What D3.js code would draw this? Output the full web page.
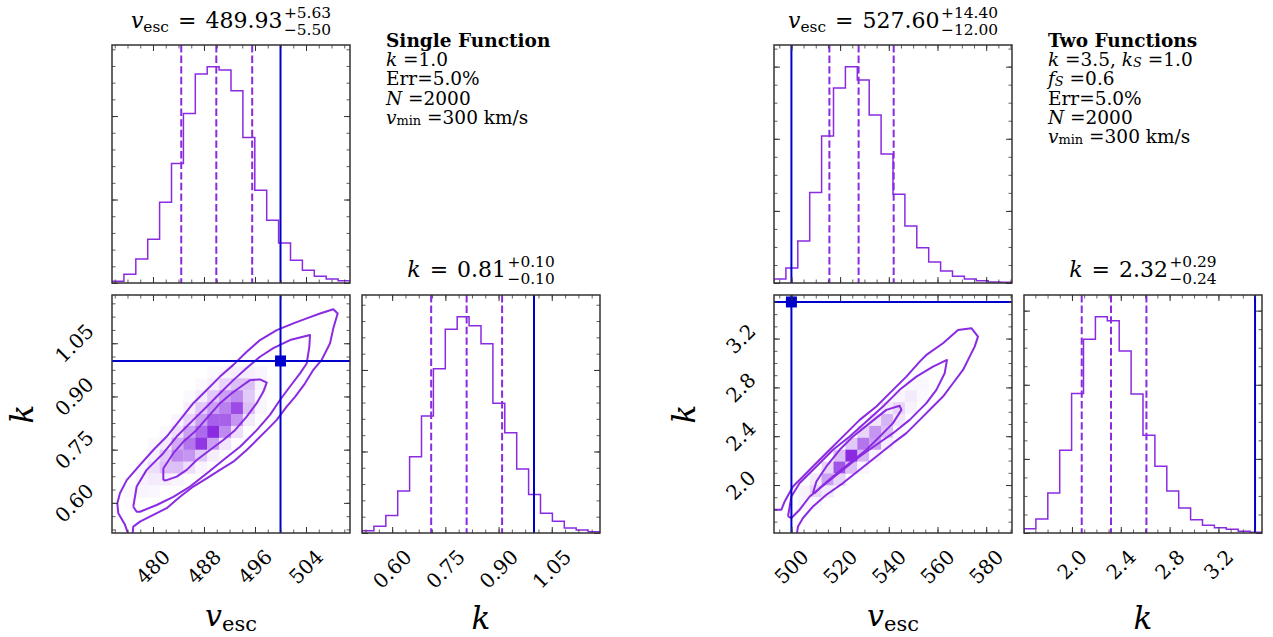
<!DOCTYPE html>
<html><head><meta charset="utf-8">
<script src="https://d3js.org/d3.v7.min.js"></script>
<style>html,body{margin:0;padding:0;background:#fff} text{white-space:pre}</style>
</head><body>
<svg id="chart" width="1273" height="637" xmlns="http://www.w3.org/2000/svg"></svg>
<script>
// ================= DATA =================
const nBins = 20;

// ---- Left: Single Function ----
const leftVescExtent = [473.57, 510.9];
const leftKExtent = [0.515, 1.186];
const leftVescHist = [2, 10.4, 28.8, 52.4, 96.8, 143.2, 203.2, 250.4, 259.2, 255.2, 230.4, 174.4, 111.2, 75.2, 48, 27.2, 15.2, 8, 4.8, 2.8];
const leftKHist = [2.9, 8.2, 21.4, 51.4, 93.4, 143.6, 201.6, 249.8, 265.4, 254.3, 232.1, 159.3, 123.0, 78.6, 47.3, 24.3, 14.4, 6.2, 3.7, 1.6];
const leftVescQuantiles = [484.43, 489.93, 495.56];
const leftKQuantiles = [0.71, 0.81, 0.91];
const leftTruth = [500, 1.0];
const leftVescTicks = [480, 488, 496, 504];
const leftVescTickLabels = ["480", "488", "496", "504"];
const leftKTicks = [0.60, 0.75, 0.90, 1.05];
const leftKTickLabels = ["0.60", "0.75", "0.90", "1.05"];
const leftVescMinorStep = 2, leftKMinorStep = 0.0375;
const leftHistTickSteps = [100, 20];
// [vBin, kBin, relative density]
const leftCells = [
  [8,13,.03],[9,13,.05],[10,13,.08],[11,13,.08],[12,13,.05],
  [7,12,.03],[8,12,.08],[9,12,.2],[10,12,.3],[11,12,.3],[12,12,.06],
  [6,11,.03],[7,11,.1],[8,11,.25],[9,11,.45],[10,11,.55],[11,11,.25],[12,11,.04],
  [6,10,.08],[7,10,.25],[8,10,.45],[9,10,.6],[10,10,.85],[11,10,.3],[12,10,.05],
  [5,9,.05],[6,9,.2],[7,9,.45],[8,9,.75],[9,9,.75],[10,9,.5],[11,9,.1],
  [4,8,.04],[5,8,.15],[6,8,.45],[7,8,.7],[8,8,1],[9,8,.55],[10,8,.15],
  [3,7,.03],[4,7,.1],[5,7,.4],[6,7,.65],[7,7,.95],[8,7,.45],[9,7,.12],
  [3,6,.06],[4,6,.25],[5,6,.55],[6,6,.5],[7,6,.25],[8,6,.08],
  [2,5,.04],[3,5,.15],[4,5,.3],[5,5,.3],[6,5,.15],[7,5,.05],
  [2,4,.06],[3,4,.1],[4,4,.08],[5,4,.05],
  [1,3,.03],[2,3,.05],[3,3,.04],
  [1,2,.02]
];
const leftContourInner = [[481.62,0.664],[481.62,0.697],[483.19,0.740],[484.75,0.772],[486.59,0.801],[488.42,0.838],[490.51,0.881],[492.35,0.909],[493.65,0.926],[495.22,0.946],[496.79,0.948],[497.84,0.939],[497.30,0.913],[496.27,0.881],[494.70,0.843],[492.86,0.805],[491.03,0.777],[488.94,0.749],[486.86,0.721],[485.29,0.693],[483.72,0.674],[482.15,0.664]];
const leftContourMiddle = [[476.91,0.589],[477.44,0.646],[479.01,0.693],[481.62,0.740],[483.72,0.787],[486.32,0.834],[488.42,0.871],[490.51,0.909],[492.60,0.946],[494.70,0.980],[496.79,1.012],[498.87,1.036],[501.49,1.059],[504.63,1.073],[504.52,1.040],[504.11,0.993],[503.06,0.965],[501.49,0.928],[499.92,0.890],[498.35,0.848],[496.27,0.805],[493.65,0.758],[491.03,0.721],[488.42,0.683],[485.81,0.646],[483.19,0.617],[480.58,0.594],[477.96,0.575],[477.44,0.575]];
const leftContourOuter = [[476.5,0.49],[476.03,0.516],[475.61,0.538],[474.56,0.571],[474.40,0.599],[474.82,0.627],[475.88,0.664],[477.96,0.707],[480.05,0.749],[482.15,0.787],[484.24,0.834],[486.32,0.881],[488.42,0.918],[490.51,0.956],[492.60,0.989],[494.70,1.026],[496.79,1.059],[499.41,1.087],[502.01,1.106],[504.11,1.120],[506.20,1.134],[508.28,1.146],[508.97,1.134],[508.28,1.092],[507.77,1.050],[506.46,1.003],[505.15,0.975],[503.85,0.937],[502.28,0.899],[500.97,0.871],[499.41,0.834],[497.84,0.805],[496.27,0.777],[494.70,0.749],[492.60,0.716],[490.51,0.693],[488.42,0.669],[486.32,0.646],[484.24,0.617],[482.15,0.585],[480.05,0.566],[477.96,0.547],[476.91,0.533],[476.82,0.516],[476.9,0.49]];
const leftTitleV = ["489.93", "5.63", "5.50"];
const leftTitleK = ["0.81", "0.10", "0.10"];
const leftInfo = [
  [{t:"Single Function", b:true}],
  [{t:"k", i:true}, {t:" =1.0"}],
  [{t:"Err=5.0%"}],
  [{t:"N", i:true}, {t:" =2000"}],
  [{t:"v", i:true}, {t:"min", sub:true}, {t:" =300 km/s"}]
];

// ---- Right: Two Functions ----
const rightVescExtent = [492.85, 590.6];
const rightKExtent = [1.607, 3.557];
const rightVescHist = [11.1, 41.7, 116.7, 250.9, 407.4, 540.7, 600.0, 563.0, 465.7, 357.4, 246.3, 158.3, 98.1, 58.3, 33.3, 18.5, 11.1, 6.5, 2.8, 1.9];
const rightKHist = [11.7, 37.8, 108.1, 223.4, 376.6, 522.5, 583.8, 573.0, 491.0, 374.8, 264.0, 180.2, 113.5, 67.6, 36.0, 20.7, 14.4, 9.9, 4.5, 1.8];
const rightVescQuantiles = [515.6, 527.6, 542.0];
const rightKQuantiles = [2.08, 2.32, 2.61];
const rightTruth = [500, 3.5];
const rightVescTicks = [500, 520, 540, 560, 580];
const rightVescTickLabels = ["500", "520", "540", "560", "580"];
const rightKTicks = [2.0, 2.4, 2.8, 3.2];
const rightKTickLabels = ["2.0", "2.4", "2.8", "3.2"];
const rightVescMinorStep = 5, rightKMinorStep = 0.1;
const rightHistTickSteps = [200, 50];
const rightCells = [
  [12,13,.02],
  [11,12,.04],[12,12,.04],
  [10,11,.05],[11,11,.1],[12,11,.03],
  [9,10,.1],[10,10,.2],[11,10,.06],
  [8,9,.12],[9,9,.35],[10,9,.12],
  [7,8,.2],[8,8,.5],[9,8,.3],[10,8,.03],
  [6,7,.25],[7,7,.65],[8,7,.45],[9,7,.08],
  [5,6,.3],[6,6,1],[7,6,.35],[8,6,.05],
  [4,5,.2],[5,5,.8],[6,5,.3],[7,5,.05],
  [3,4,.1],[4,4,.45],[5,4,.2],
  [2,3,.06],[3,3,.2],[4,3,.1],
  [2,2,.05],[3,2,.04],
  [1,1,.02]
];
const rightContourInner = [[508.87,1.934],[510.26,2.029],[514.37,2.152],[519.83,2.289],[525.29,2.397],[532.15,2.507],[539.01,2.616],[544.47,2.649],[545.17,2.616],[541.72,2.507],[536.26,2.397],[530.80,2.289],[523.94,2.180],[517.08,2.070],[511.62,1.975],[509.56,1.934]];
const rightContourMiddle = [[498.60,1.743],[499.99,1.906],[503.40,2.016],[510.26,2.152],[517.08,2.289],[523.94,2.397],[530.80,2.520],[537.61,2.643],[544.47,2.780],[551.33,2.888],[558.15,2.970],[563.90,3.025],[562.95,2.916],[559.54,2.780],[555.44,2.671],[548.58,2.534],[541.72,2.425],[534.90,2.330],[528.04,2.234],[521.19,2.125],[514.37,2.016],[507.51,1.906],[503.40,1.798],[499.99,1.730]];
const rightContourOuter = [[489.0,1.798],[492.85,1.798],[495.89,1.798],[497.24,1.866],[500.65,1.988],[504.76,2.070],[510.26,2.180],[515.72,2.289],[522.58,2.425],[528.04,2.534],[534.90,2.643],[541.72,2.780],[547.22,2.888],[552.69,3.011],[555.44,3.066],[562.26,3.162],[568.42,3.271],[573.92,3.285],[576.63,3.216],[575.27,3.134],[573.22,3.052],[570.47,2.943],[566.36,2.834],[562.26,2.725],[558.15,2.643],[552.69,2.534],[547.22,2.425],[541.72,2.343],[534.90,2.234],[528.04,2.125],[521.19,2.016],[514.37,1.920],[508.87,1.825],[504.76,1.730],[502.71,1.661],[502.30,1.607],[502.2,1.57]];
const rightTitleV = ["527.60", "14.40", "12.00"];
const rightTitleK = ["2.32", "0.29", "0.24"];
const rightInfo = [
  [{t:"Two Functions", b:true}],
  [{t:"k", i:true}, {t:" =3.5, "}, {t:"k", i:true}, {t:"S", sub:true, i:true}, {t:" =1.0"}],
  [{t:"f", i:true}, {t:"S", sub:true, i:true}, {t:" =0.6"}],
  [{t:"Err=5.0%"}],
  [{t:"N", i:true}, {t:" =2000"}],
  [{t:"v", i:true}, {t:"min", sub:true}, {t:" =300 km/s"}]
];

// ================= STYLE / LAYOUT =================
const SERIF = "'DejaVu Serif','Liberation Serif',serif";
const PURPLE = "#8a2be2", BLUE = "#0000cd", AXC = "#333333";
const S = 238, GAP = 12, TOP_Y = 45, BOT_Y = 295;
const TICK_FS = 20, TITLE_FS = 22, LABEL_FS = 30, INFO_FS = 18.5;
const svg = d3.select("#chart");
const defs = svg.append("defs");
let clipId = 0;
const cmap = d3.interpolateRgb("#ffffff", PURPLE);

function richText(sel, segs, fs, start, subShift) {
  let shift = 0;
  const sh = subShift === undefined ? 0.17 : subShift;
  segs.forEach((s, idx) => {
    const ts = sel.append("tspan").text(s.t);
    if (idx === 0 && start) { ts.attr("x", start.x).attr("y", start.y); shift = 0; }
    if (s.i) ts.attr("font-style", "italic");
    if (s.b) ts.attr("font-weight", "bold");
    const target = s.sub ? fs * sh : 0;
    ts.attr("font-size", s.sub ? fs * 0.7 : fs);
    if (target !== shift) { ts.attr("dy", target - shift); shift = target; }
    if (s.dx) ts.attr("dx", s.dx);
  });
}

function panel(x, y) {
  const g = svg.append("g").attr("transform", `translate(${x},${y})`);
  const id = "clip" + (clipId++);
  defs.append("clipPath").attr("id", id).append("rect").attr("width", S).attr("height", S);
  const inner = g.append("g").attr("clip-path", `url(#${id})`);
  return {g, inner};
}

function minorVals(ext, major0, step) {
  const start = major0 - Math.floor((major0 - ext[0]) / step + 1e-9) * step;
  const out = [];
  for (let v = start; v <= ext[1] + 1e-9; v += step) out.push(v);
  return out;
}

function frame(g, xs, ys, xMaj, xMin, yMaj, yMin) {
  const mk = (fn, scale, vals, len, tr, w) => {
    const a = fn(scale).tickValues(vals).tickSize(-len).tickFormat("");
    const ga = g.append("g").attr("transform", tr).call(a);
    ga.select(".domain").remove();
    ga.selectAll("text").remove();
    ga.selectAll("line").attr("stroke", AXC).attr("stroke-width", w);
  };
  [[xMaj, 6, 1], [xMin, 3.5, 0.8]].forEach(([v, l, w]) => {
    mk(d3.axisBottom, xs, v, l, `translate(0,${S})`, w);
    mk(d3.axisTop, xs, v, l, `translate(0,0)`, w);
  });
  [[yMaj, 6, 1], [yMin, 3.5, 0.8]].forEach(([v, l, w]) => {
    mk(d3.axisLeft, ys, v, l, `translate(0,0)`, w);
    mk(d3.axisRight, ys, v, l, `translate(${S},0)`, w);
  });
  g.append("rect").attr("width", S).attr("height", S).attr("fill", "none")
    .attr("stroke", AXC).attr("stroke-width", 1.5);
}

function rotLabel(g, label) {
  const t = g.append("text").attr("font-family", SERIF).attr("font-size", TICK_FS)
    .attr("text-anchor", "middle").attr("dy", "0.36em").text(label);
  const L = t.node().getComputedTextLength(), h = TICK_FS * 0.73;
  return {t, half: (L + h) / (2 * Math.SQRT2)};
}
function xTickLabels(g, xs, vals, labels) {
  vals.forEach((v, i) => {
    const {t, half} = rotLabel(g, labels[i]);
    t.attr("transform", `translate(${xs(v)},${S + 15 + half}) rotate(-45)`);
  });
}
function yTickLabels(g, ys, vals, labels) {
  vals.forEach((v, i) => {
    const {t, half} = rotLabel(g, labels[i]);
    t.attr("transform", `translate(${-17 - half},${ys(v)}) rotate(-45)`);
  });
}

function histPanel(x, y, ext, hist, quant, truth, ticks, minorStep, hSteps) {
  const {g, inner} = panel(x, y);
  const xs = d3.scaleLinear().domain(ext).range([0, S]);
  const ys = d3.scaleLinear().domain([0, 1.1 * d3.max(hist)]).range([S, 0]);
  const bw = (ext[1] - ext[0]) / nBins;
  const pts = [[ext[0], 0]];
  hist.forEach((h, i) => { pts.push([ext[0] + i * bw, h]); pts.push([ext[0] + (i + 1) * bw, h]); });
  pts.push([ext[1], 0]);
  inner.append("path").attr("d", d3.line().x(d => xs(d[0])).y(d => ys(d[1]))(pts))
    .attr("fill", "none").attr("stroke", PURPLE).attr("stroke-width", 1.5);
  quant.forEach(q => inner.append("line").attr("x1", xs(q)).attr("x2", xs(q)).attr("y1", 0).attr("y2", S)
    .attr("stroke", PURPLE).attr("stroke-width", 2).attr("stroke-dasharray", "7.4,3.2"));
  inner.append("line").attr("x1", xs(truth)).attr("x2", xs(truth)).attr("y1", 0).attr("y2", S)
    .attr("stroke", BLUE).attr("stroke-width", 2);
  const yMaj = d3.range(0, ys.domain()[1], hSteps[0]);
  const yMin = d3.range(0, ys.domain()[1], hSteps[1]);
  frame(g, xs, ys, ticks, minorVals(ext, ticks[0], minorStep), yMaj, yMin);
  return {g, xs, ys};
}

function titleErr(cx, by, lhs, vals) {
  const t = svg.append("text").attr("font-family", SERIF).attr("font-size", TITLE_FS).attr("fill", "#000");
  richText(t, lhs.concat([{t: " = ", dx: 2}, {t: vals[0], dx: 2}]), TITLE_FS, {x: 0, y: by});
  const bb = t.node().getBBox();
  const w = bb.x + bb.width + 1.5;
  const sfs = TITLE_FS * 0.7;
  t.append("tspan").attr("x", w).attr("y", by - 10).attr("font-size", sfs).text("+" + vals[1]);
  t.append("tspan").attr("x", w).attr("y", by + 6.5).attr("font-size", sfs).text("\u2212" + vals[2]);
  const bb2 = t.node().getBBox();
  t.attr("transform", `translate(${cx - (bb2.x + bb2.width / 2)},0)`);
}

function corner(x0, d) {
  const top = histPanel(x0, TOP_Y, d.vExt, d.vHist, d.vQ, d.truth[0], d.vTicks, d.vMinor, d.hSteps);
  const kh = histPanel(x0 + S + GAP, BOT_Y, d.kExt, d.kHist, d.kQ, d.truth[1], d.kTicks, d.kMinor, d.hSteps);
  xTickLabels(kh.g, kh.xs, d.kTicks, d.kLabels);

  const {g, inner} = panel(x0, BOT_Y);
  const xs = d3.scaleLinear().domain(d.vExt).range([0, S]);
  const ys = d3.scaleLinear().domain(d.kExt).range([S, 0]);
  const bv = (d.vExt[1] - d.vExt[0]) / nBins, bk = (d.kExt[1] - d.kExt[0]) / nBins;
  inner.selectAll("rect.cell").data(d.cells).enter().append("rect")
    .attr("x", c => xs(d.vExt[0] + c[0] * bv))
    .attr("y", c => ys(d.kExt[0] + (c[1] + 1) * bk))
    .attr("width", c => xs(d.vExt[0] + (c[0] + 1) * bv) - xs(d.vExt[0] + c[0] * bv) + 0.3)
    .attr("height", c => ys(d.kExt[0] + c[1] * bk) - ys(d.kExt[0] + (c[1] + 1) * bk) + 0.3)
    .attr("fill", c => cmap(c[2]));
  const line = d3.line().x(p => xs(p[0])).y(p => ys(p[1]));
  [d.cIn, d.cMid].forEach(c => inner.append("path").attr("d", line(c.concat([c[0]])))
    .attr("fill", "none").attr("stroke", PURPLE).attr("stroke-width", 2).attr("stroke-linejoin", "round"));
  inner.append("path").attr("d", line(d.cOut)).attr("fill", "none").attr("stroke", PURPLE)
    .attr("stroke-width", 2).attr("stroke-linejoin", "round");
  inner.append("line").attr("x1", xs(d.truth[0])).attr("x2", xs(d.truth[0])).attr("y1", 0).attr("y2", S)
    .attr("stroke", BLUE).attr("stroke-width", 2);
  inner.append("line").attr("x1", 0).attr("x2", S).attr("y1", ys(d.truth[1])).attr("y2", ys(d.truth[1]))
    .attr("stroke", BLUE).attr("stroke-width", 2);
  inner.append("rect").attr("x", xs(d.truth[0]) - 5.5).attr("y", ys(d.truth[1]) - 5.5)
    .attr("width", 11).attr("height", 11).attr("fill", BLUE);
  frame(g, xs, ys, d.vTicks, minorVals(d.vExt, d.vTicks[0], d.vMinor), d.kTicks, minorVals(d.kExt, d.kTicks[0], d.kMinor));
  xTickLabels(g, xs, d.vTicks, d.vLabels);
  yTickLabels(g, ys, d.kTicks, d.kLabels);

  // axis labels
  const vl = svg.append("text").attr("x", x0 + S / 2).attr("y", 626).attr("text-anchor", "middle")
    .attr("font-family", SERIF).attr("font-size", LABEL_FS);
  richText(vl, [{t:"v", i:true}, {t:"esc", sub:true}], LABEL_FS);
  svg.append("text").attr("x", x0 + S + GAP + S / 2).attr("y", 629).attr("text-anchor", "middle")
    .attr("font-family", SERIF).attr("font-size", LABEL_FS + 1).attr("font-style", "italic").text("k");
  svg.append("text").attr("transform", `translate(${x0 - 90},${BOT_Y + S / 2}) rotate(-90)`)
    .attr("text-anchor", "middle").attr("dy", "0.36em")
    .attr("font-family", SERIF).attr("font-size", LABEL_FS + 1).attr("font-style", "italic").text("k");

  // titles
  titleErr(x0 + S / 2, 28, [{t:"v", i:true}, {t:"esc", sub:true}], d.tV);
  titleErr(x0 + S + GAP + S / 2, 277, [{t:"k", i:true}], d.tK);

  // info text block (single multi-line text element)
  const info = svg.append("text").attr("font-family", SERIF).attr("font-size", INFO_FS);
  d.info.forEach((segs, i) => richText(info, segs, INFO_FS, {x: x0 + S + GAP + 24, y: 46.7 + i * 19.3}, 0.06));
}

corner(112, {
  vExt: leftVescExtent, kExt: leftKExtent, vHist: leftVescHist, kHist: leftKHist,
  vQ: leftVescQuantiles, kQ: leftKQuantiles, truth: leftTruth,
  vTicks: leftVescTicks, vLabels: leftVescTickLabels, kTicks: leftKTicks, kLabels: leftKTickLabels,
  vMinor: leftVescMinorStep, kMinor: leftKMinorStep, hSteps: leftHistTickSteps,
  cells: leftCells, cIn: leftContourInner, cMid: leftContourMiddle, cOut: leftContourOuter,
  tV: leftTitleV, tK: leftTitleK, info: leftInfo
});
corner(774, {
  vExt: rightVescExtent, kExt: rightKExtent, vHist: rightVescHist, kHist: rightKHist,
  vQ: rightVescQuantiles, kQ: rightKQuantiles, truth: rightTruth,
  vTicks: rightVescTicks, vLabels: rightVescTickLabels, kTicks: rightKTicks, kLabels: rightKTickLabels,
  vMinor: rightVescMinorStep, kMinor: rightKMinorStep, hSteps: rightHistTickSteps,
  cells: rightCells, cIn: rightContourInner, cMid: rightContourMiddle, cOut: rightContourOuter,
  tV: rightTitleV, tK: rightTitleK, info: rightInfo
});
</script>
</body></html>
